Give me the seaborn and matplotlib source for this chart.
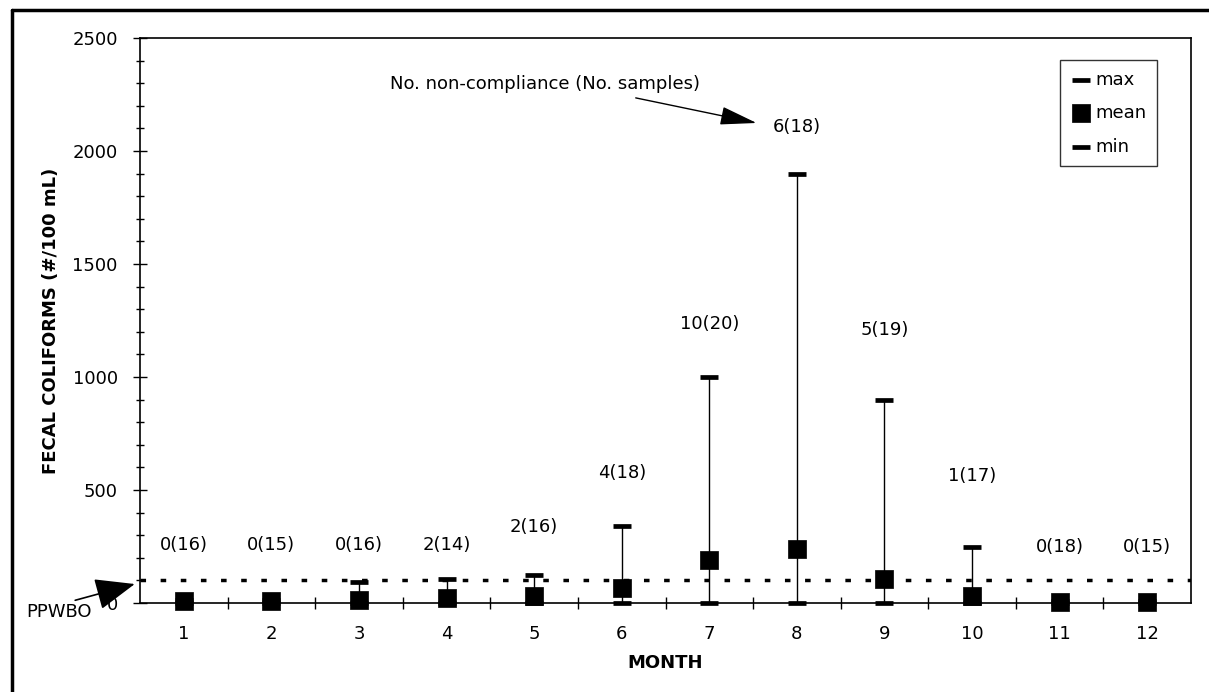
import numpy as np
import pandas as pd
import matplotlib
matplotlib.use("Agg")
import matplotlib.pyplot as plt
from matplotlib.lines import Line2D
from matplotlib.ticker import MultipleLocator, FixedLocator
import seaborn as sns

# ---- data ----
months = [1, 2, 3, 4, 5, 6, 7, 8, 9, 10, 11, 12]
fc_max = [15, 15, 95, 105, 125, 340, 1000, 1900, 900, 250, 10, 10]
fc_mean = [9, 10, 13, 22, 31, 66, 190, 240, 106, 31, 5, 5]
fc_min = [0, 0, 0, 0, 0, 0, 0, 0, 0, 0, 0, 0]
compliance_labels = ["0(16)", "0(15)", "0(16)", "2(14)", "2(16)", "4(18)",
                     "10(20)", "6(18)", "5(19)", "1(17)", "0(18)", "0(15)"]
label_y = [255, 255, 255, 255, 336, 575, 1235, 2106, 1208, 560, 248, 248]
ppwbo = 100

sns.set_theme(style="white")
plt.rcParams['font.family'] = ['DejaVu Sans']
plt.rcParams['text.color'] = 'black'
plt.rcParams['axes.labelcolor'] = 'black'
plt.rcParams['xtick.color'] = 'black'
plt.rcParams['ytick.color'] = 'black'
plt.rcParams['legend.labelcolor'] = 'black'

fig = plt.figure(figsize=(12.09, 6.92), dpi=100)
ax = fig.add_axes([140/1209, (692-603)/692, (1191-140)/1209, (603-38)/692])

df = pd.DataFrame({"month": months, "max": fc_max, "mean": fc_mean, "min": fc_min})

ax.vlines(df["month"], df["min"], df["max"], color="black", lw=1.0, zorder=2)
sns.scatterplot(data=df, x="month", y="max", marker="_", s=160, linewidth=3.4,
                color="black", ax=ax, label="max", clip_on=False, zorder=3)
sns.scatterplot(data=df, x="month", y="mean", marker="s", s=160, color="black",
                edgecolor="black", linewidth=0.5, ax=ax, label="mean", clip_on=False, zorder=4)
sns.scatterplot(data=df, x="month", y="min", marker="_", s=160, linewidth=3.4,
                color="black", ax=ax, label="min", clip_on=False, zorder=3)

ax.axhline(ppwbo, color="black", ls=(0, (1.6, 4.2)), lw=2.5, zorder=1)

for m, t, yy in zip(months, compliance_labels, label_y):
    ax.text(m, yy, t, ha="center", va="center", fontsize=13, color="black")

ax.set_xlim(0.5, 12.5)
ax.set_ylim(0, 2500)
ax.xaxis.set_major_locator(FixedLocator(months))
ax.set_xticklabels([str(m) for m in months])
ax.xaxis.set_minor_locator(FixedLocator([m + 0.5 for m in months[:-1]]))
ax.yaxis.set_major_locator(MultipleLocator(500))
ax.yaxis.set_minor_locator(MultipleLocator(100))

ax.tick_params(axis="x", which="major", length=0, pad=16, labelsize=13, colors="black")
ax.tick_params(axis="x", which="minor", direction="inout", length=9, width=1, color="black")
ax.tick_params(axis="y", which="major", direction="inout", length=10, width=1, pad=11,
               labelsize=13, colors="black", left=True)
ax.tick_params(axis="y", which="minor", direction="inout", length=6, width=1, color="black", left=True)
ax.tick_params(axis="x", which="both", bottom=True)

for s in ax.spines.values():
    s.set_color("black")
    s.set_linewidth(1.2)

ax.set_xlabel("MONTH", fontsize=13, fontweight="bold", labelpad=8, color="black")
ax.set_ylabel("FECAL COLIFORMS (#/100 mL)", fontsize=13, fontweight="bold", labelpad=9, color="black")

# annotation: No. non-compliance
ax.text(5.12, 2296, "No. non-compliance (No. samples)", ha="center", va="center",
        fontsize=13, color="black")
ax.annotate("", xy=(7.54, 2124), xytext=(6.16, 2235),
            arrowprops=dict(arrowstyle="-|>,head_length=1.0,head_width=0.25",
                            mutation_scale=23, color="black", lw=1.0,
                            shrinkA=0, shrinkB=0))

# PPWBO annotation
ax.text(-0.43, -42, "PPWBO", ha="center", va="center", fontsize=13, clip_on=False, color="black")
ax.annotate("", xy=(0.44, 84), xytext=(-0.24, 12), annotation_clip=False,
            arrowprops=dict(arrowstyle="-|>,head_length=1.0,head_width=0.4",
                            mutation_scale=25, color="black", lw=1.2,
                            shrinkA=0, shrinkB=0))

# legend
handles, labels = ax.get_legend_handles_labels()
leg = ax.legend(handles, labels, loc="upper right", bbox_to_anchor=(0.968, 0.961),
                fontsize=13, frameon=True, fancybox=False, edgecolor="black",
                handlelength=1.1, handletextpad=0.25, labelspacing=0.85,
                borderpad=0.6, borderaxespad=0)
leg.get_frame().set_linewidth(1.0)
for t in leg.get_texts():
    t.set_color("black")

# outer frame of figure
fig.add_artist(Line2D([12/1209, 12/1209], [0, 1 - 10/692], color="black", lw=2.5,
                      transform=fig.transFigure))
fig.add_artist(Line2D([12/1209, 1], [1 - 10/692, 1 - 10/692], color="black", lw=2.5,
                      transform=fig.transFigure))

fig.savefig("out.png", dpi=100, facecolor="white")
